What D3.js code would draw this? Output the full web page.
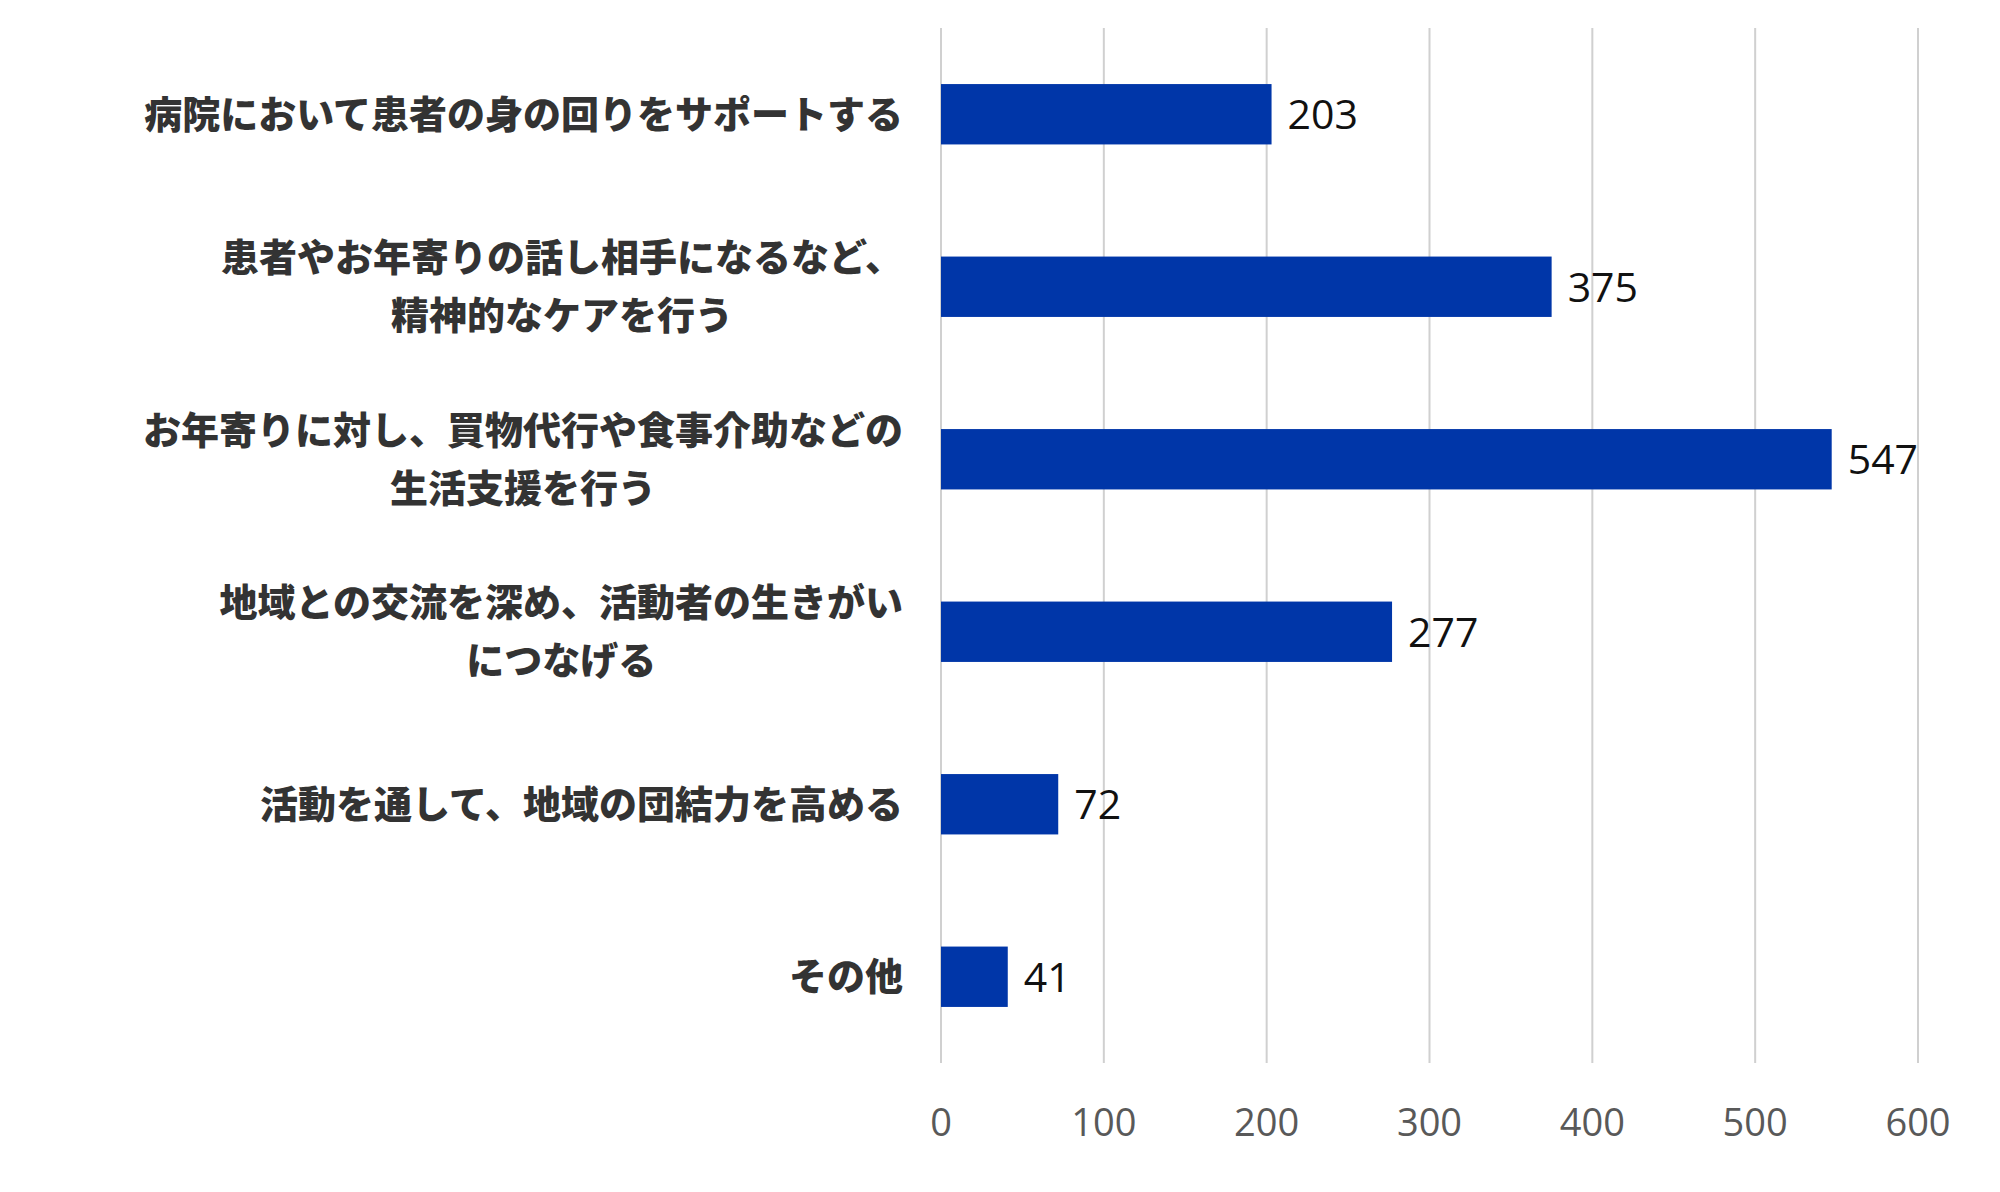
<!DOCTYPE html>
<html><head><meta charset="utf-8">
<script src="https://cdn.jsdelivr.net/npm/d3@7"></script>
<style>body{margin:0;background:#fff}</style></head>
<body><svg id="c" width="2000" height="1192"></svg>
<script>
const categories = [
  ["病院において患者の身の回りをサポートする"],
  ["患者やお年寄りの話し相手になるなど、","精神的なケアを行う"],
  ["お年寄りに対し、買物代行や食事介助などの","生活支援を行う"],
  ["地域との交流を深め、活動者の生きがい","につなげる"],
  ["活動を通して、地域の団結力を高める"],
  ["その他"]
];
const values = [203, 375, 547, 277, 72, 41];
const ticks = [0,100,200,300,400,500,600];

const svg = d3.select("#c");
const x = d3.scaleLinear().domain([0,600]).range([941,1918]);
const y = d3.scaleBand().domain(d3.range(categories.length)).range([28,1063]).paddingInner(0.65).paddingOuter(0.325);

svg.append("g").selectAll("line").data(ticks).join("line")
  .attr("x1",d=>x(d)).attr("x2",d=>x(d)).attr("y1",28).attr("y2",1063)
  .attr("stroke","#d0d0d0").attr("stroke-width",2);

svg.append("g").selectAll("rect").data(values).join("rect")
  .attr("x",x(0)).attr("y",(d,i)=>y(i)).attr("width",d=>x(d)-x(0)).attr("height",y.bandwidth())
  .attr("fill","#0036A8");

svg.append("g").selectAll("text").data(values).join("text")
  .attr("x",d=>x(d)+16).attr("y",(d,i)=>y(i)+y.bandwidth()/2).attr("dy","0.36em")
  .attr("font-family","Open Sans, Noto Sans, sans-serif").attr("font-size",41).attr("fill","#111")
  .text(d=>d);

svg.append("g").selectAll("text").data(ticks).join("text")
  .attr("x",d=>x(d)).attr("y",1122).attr("dy","0.36em").attr("text-anchor","middle")
  .attr("font-family","Open Sans, Noto Sans, sans-serif").attr("font-size",38).attr("fill","#595959")
  .text(d=>d);

const lab = svg.append("g").selectAll("text").data(categories).join("text")
  .attr("text-anchor","middle")
  .attr("font-family","Noto Sans CJK JP").attr("font-weight",900).attr("font-size",38).attr("fill","#333");
lab.each(function(lines,i){
  const cy = y(i)+y.bandwidth()/2;
  const lh = 58;
  const t = d3.select(this);
  lines.forEach((s,k)=>{
    t.append("tspan").attr("x",490).attr("y",cy+(k-(lines.length-1)/2)*lh).attr("dy","0.36em").text(s);
  });
});
// right align single-line labels, center multi-line block against right edge
lab.each(function(lines){
  const t=d3.select(this);
  const w=this.getBBox().width;
  const shift = 903 - w/2;
  t.selectAll("tspan").attr("x",shift);
});
</script></body></html>
